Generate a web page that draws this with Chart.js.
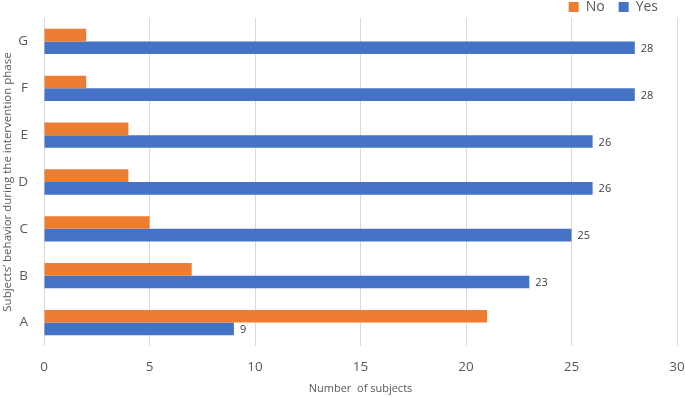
<!DOCTYPE html>
<html>
<head>
<meta charset="utf-8">
<script src="https://cdn.jsdelivr.net/npm/chart.js@4"></script>
<style>
  html, body { margin: 0; padding: 0; background: #fff; }
  #wrap { width: 685px; height: 397px; }
</style>
</head>
<body>
<div id="wrap"><canvas id="chart"></canvas></div>
<script>
const categories = ["A", "B", "C", "D", "E", "F", "G"];
const noValues = [21, 7, 5, 4, 4, 2, 2];
const yesValues = [9, 23, 25, 26, 26, 28, 28];

const FONT = "'Open Sans', 'Liberation Sans', sans-serif";

// value labels at the end of the Yes bars
const yesLabels = {
  id: "yesLabels",
  afterDatasetsDraw(chart) {
    const ctx = chart.ctx;
    const meta = chart.getDatasetMeta(1);
    ctx.save();
    ctx.font = "11px " + FONT;
    ctx.fillStyle = "#404040";
    ctx.textBaseline = "middle";
    meta.data.forEach((bar, i) => {
      ctx.fillText(String(yesValues[i]), bar.x + 6, bar.y + 1);
    });
    ctx.restore();
  },
};

// squeeze the legend into a thin strip at the top
const legendTweak = {
  id: "legendTweak",
  afterInit(chart) {
    const lg = chart.legend;
    const fit = lg.fit.bind(lg);
    const draw = lg.draw.bind(lg);
    lg.fit = function () { fit(); this.height = 18; };
    lg.draw = function () {
      const top = this.top, right = this.right;
      this.top = top - 14;
      this.right = right - 5;
      draw();
      this.top = top;
      this.right = right;
    };
  },
};

new Chart(document.getElementById("chart"), {
  type: "bar",
  data: {
    labels: categories,
    datasets: [
      { label: "No", data: noValues, backgroundColor: "#ED7D31", barPercentage: 1, categoryPercentage: 0.54 },
      { label: "Yes", data: yesValues, backgroundColor: "#4472C4", barPercentage: 1, categoryPercentage: 0.54 },
    ],
  },
  options: {
    indexAxis: "y",
    responsive: true,
    maintainAspectRatio: false,
    animation: false,
    layout: { padding: { left: 0, right: 8, top: 0, bottom: 0 } },
    plugins: {
      tooltip: { enabled: false },
      legend: {
        position: "top",
        align: "end",
        labels: {
          boxWidth: 10,
          boxHeight: 10,
          padding: 14,
          color: "#595959",
          font: { family: FONT, size: 14 },
        },
      },
    },
    scales: {
      x: {
        min: 0,
        max: 30,
        afterFit(scale) { scale.height = 51; scale.paddingLeft = 0; scale.paddingRight = 0; },
        ticks: { stepSize: 5, color: "#595959", font: { family: FONT, size: 13.5 }, padding: 13 },
        grid: { color: "#d9d9d9", drawTicks: false },
        border: { display: false },
        title: { display: true, text: "Number  of subjects", color: "#595959", font: { family: FONT, size: 11 }, padding: { top: 0, bottom: 2 } },
      },
      y: {
        reverse: true,
        afterFit(scale) { scale.width = 44; scale.paddingTop = 0; scale.paddingBottom = 0; },
        ticks: { color: "#595959", font: { family: FONT, size: 13.5 }, padding: 16 },
        grid: { display: false, drawTicks: false },
        border: { display: false },
        title: { display: true, text: "Subjects’ behavior during the intervention phase", color: "#595959", font: { family: FONT, size: 11.5 }, padding: { top: 1, bottom: 1 } },
      },
    },
  },
  plugins: [yesLabels, legendTweak],
});
</script>
</body>
</html>
